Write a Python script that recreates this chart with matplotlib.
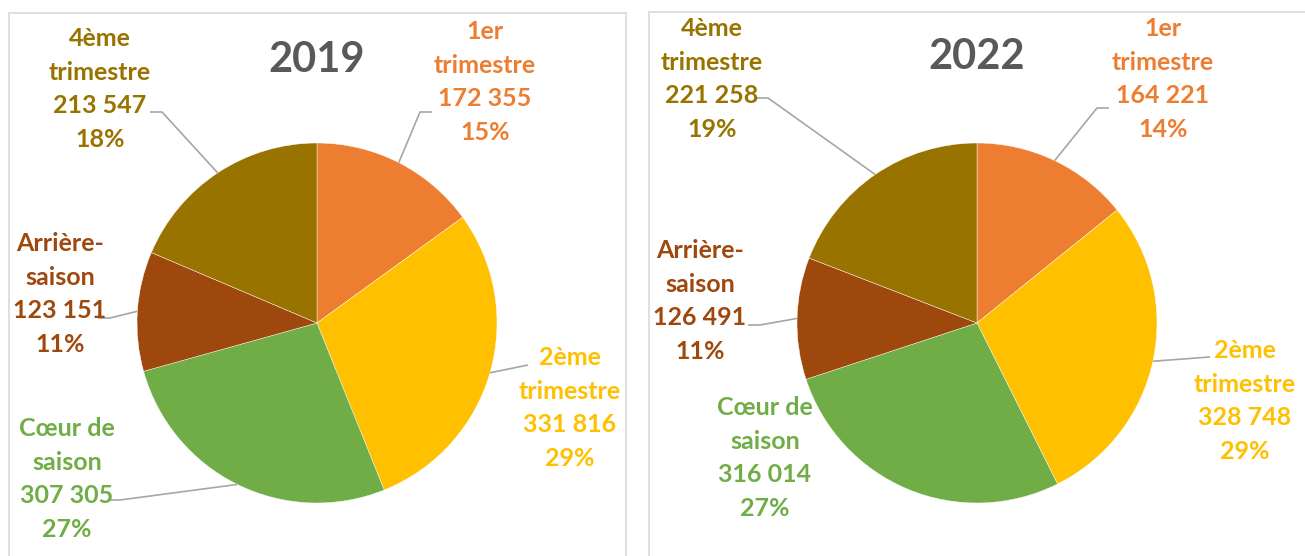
import matplotlib
matplotlib.use("Agg")
import matplotlib.pyplot as plt
from matplotlib.patches import Rectangle
import numpy as np

plt.rcParams['font.family'] = ['Lato', 'DejaVu Sans']

categories = ["1er\ntrimestre", "2ème\ntrimestre", "Cœur de\nsaison", "Arrière-\nsaison", "4ème\ntrimestre"]
values_2019 = [172355, 331816, 307305, 123151, 213547]
values_2022 = [164221, 328748, 316014, 126491, 221258]
pct_2019 = [15, 29, 27, 11, 18]
pct_2022 = [14, 29, 27, 11, 19]
years = ["2019", "2022"]
colors = ["#ED7D31", "#FFC000", "#70AD47", "#9E480E", "#997300"]

W, H = 1305, 556
fig = plt.figure(figsize=(W / 100, H / 100), dpi=100)
ax = fig.add_axes([0, 0, 1, 1])

def py(y):
    return H - y

# panel borders
ax.add_patch(Rectangle((9, py(600)), 617, 600 - 13, fill=False, ec="#D9D9D9", lw=1.2))
ax.add_patch(Rectangle((649, py(600)), 700, 600 - 12, fill=False, ec="#D9D9D9", lw=1.2))

R = 180
panels = [
    dict(values=values_2019, pcts=pct_2019, year=years[0], center=(317, 323), title=(317, 60),
         labels=[(485, 82), (570, 408), (67, 479), (60, 294), (100, 89)],
         elbows=[(420, 112), (528, 365), (120, 500), (110, 318), (162, 112)],
         leader=[True, True, True, True, True]),
    dict(values=values_2022, pcts=pct_2022, year=years[1], center=(977, 323), title=(977, 57),
         labels=[(1163, 79), (1245, 401), (765, 458), (700, 301), (712, 79)],
         elbows=[(1097, 108), (1210, 357), (None, None), (760, 325), (768, 98)],
         leader=[True, True, False, True, True]),
]

for p in panels:
    vals = np.array(p["values"], dtype=float)
    cx, cy = p["center"]
    ax.pie(vals, colors=colors, startangle=90, counterclock=False,
           center=(cx, py(cy)), radius=R, frame=True,
           wedgeprops=dict(linewidth=0.3, edgecolor="white"))
    ax.text(p["title"][0], py(p["title"][1]), p["year"], ha="center", va="center",
            fontsize=30, fontweight="bold", color="#595959")
    total = vals.sum()
    cum = np.cumsum(vals) - vals / 2
    for i, v in enumerate(vals):
        frac = cum[i] / total
        ang = np.deg2rad(90 - 360 * frac)
        ex, ey = cx + R * np.cos(ang), cy - R * np.sin(ang)
        txt = f"{categories[i]}\n{int(v):,}".replace(",", " ") + f"\n{p['pcts'][i]}%"
        lx, ly = p["labels"][i]
        ax.text(lx, py(ly), txt, ha="center", va="center", fontsize=18,
                fontweight="bold", color=colors[i], linespacing=1.55)
        if p["leader"][i]:
            bx, by = p["elbows"][i]
            sx = bx - 12 if bx < cx else bx + 12
            if i == 1:
                sx = bx
            ax.plot([sx, bx, ex], [py(by), py(by), py(ey)], color="#A6A6A6", lw=1.2,
                    solid_capstyle="butt")

ax.set_xlim(0, W)
ax.set_ylim(0, H)
ax.set_aspect("equal")
ax.axis("off")
fig.savefig("out.png", dpi=100, facecolor="white")
